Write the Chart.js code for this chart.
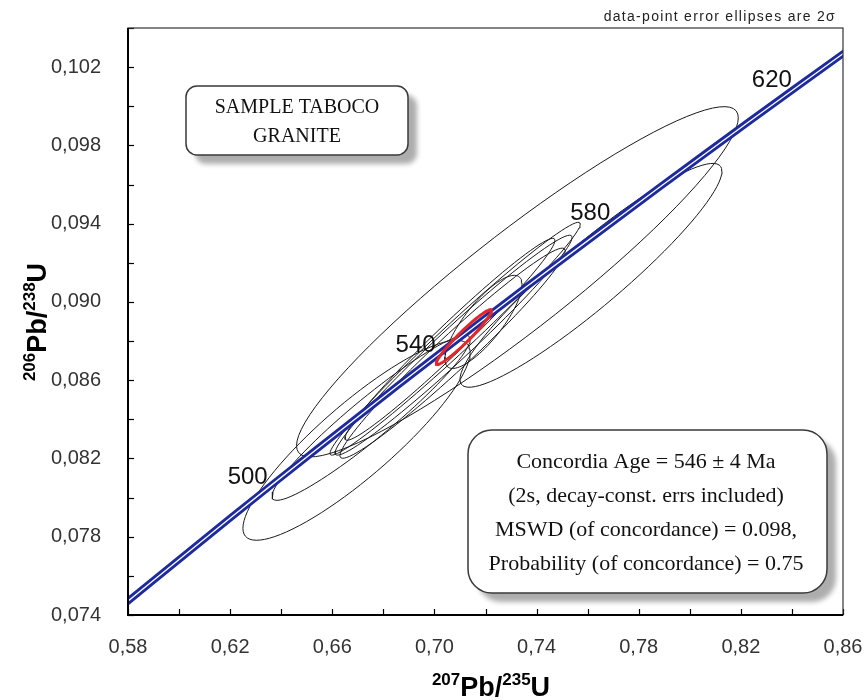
<!DOCTYPE html>
<html>
<head>
<meta charset="utf-8">
<script src="https://cdn.jsdelivr.net/npm/chart.js@4"></script>
<style>
  html, body { margin: 0; padding: 0; background: #fff; }
  #wrap { width: 867px; height: 700px; }
</style>
</head>
<body>
<div id="wrap"><canvas id="myChart" width="867" height="700"></canvas></div>
<script>
// concordia curve (age in Ma, 207Pb/235U, 206Pb/238U)
const concAges = [460, 480, 500, 520, 540, 560, 580, 600, 620, 640];
const concX = [0.57307, 0.60437, 0.63628, 0.66883, 0.70203, 0.73588, 0.77042, 0.80563, 0.84155, 0.87818];
const concY = [0.07397, 0.07730, 0.08065, 0.08401, 0.08738, 0.09076, 0.09414, 0.09754, 0.10095, 0.10438];
const labelAges = [500, 540, 580, 620];

// data-point error ellipses (2 sigma): centre, half-widths, correlation
const ellCx  = [0.6695, 0.6752, 0.7081, 0.7075, 0.7071, 0.7061, 0.7192, 0.7613, 0.7325];
const ellCy  = [0.08293, 0.08408, 0.08812, 0.08779, 0.08738, 0.08809, 0.08898, 0.09136, 0.09103];
const ellSx  = [0.0445, 0.0388, 0.0490, 0.0464, 0.0441, 0.0411, 0.0151, 0.0513, 0.0865];
const ellSy  = [0.00511, 0.00422, 0.00595, 0.00562, 0.00537, 0.00516, 0.00238, 0.00572, 0.00895];
const ellRho = [0.88, 0.95, 0.985, 0.98, 0.975, 0.98, 0.80, 0.93, 0.936];

// concordia age ellipse (red)
const ageCx = 0.7115, ageCy = 0.0882, ageSx = 0.0108, ageSy = 0.0014, ageRho = 0.96;

const xTicks = [0.58, 0.86, 0.02];
const yTicks = [0.074, 0.104, 0.002];

const titleLines = ['SAMPLE TABOCO', 'GRANITE'];
const statLines = [
  'Concordia Age = 546 \u00b1 4 Ma',
  '(2s, decay-const. errs included)',
  'MSWD (of concordance) = 0.098,',
  'Probability (of concordance) = 0.75'
];

function ellipse(cx, cy, sx, sy, rho) {
  const pts = [];
  const k = Math.sqrt(1 - rho * rho);
  for (let i = 0; i <= 90; i++) {
    const t = i / 90 * 2 * Math.PI;
    pts.push({x: cx + sx * Math.cos(t), y: cy + sy * (rho * Math.cos(t) + k * Math.sin(t))});
  }
  return pts;
}

const concData = concX.map((x, i) => ({x: x, y: concY[i]}));

const datasets = [];
datasets.push({data: ellipse(ageCx, ageCy, ageSx, ageSy, ageRho), borderColor: '#e3262a', borderWidth: 3, order: 0});
datasets.push({data: concData, borderColor: '#ffffff', borderWidth: 1.3, tension: 0.4, order: 1});
datasets.push({data: concData, borderColor: '#1d2a9e', borderWidth: 7, tension: 0.4, order: 2});
ellCx.forEach((cx, i) => {
  datasets.push({data: ellipse(cx, ellCy[i], ellSx[i], ellSy[i], ellRho[i]), borderColor: '#1a1a1a', borderWidth: 1, order: 3});
});
datasets.forEach(d => { d.showLine = true; d.pointRadius = 0; d.fill = false; });

function roundBox(ctx, x, y, w, h, r, lines, font, lineGap) {
  ctx.save();
  ctx.shadowColor = 'rgba(0,0,0,0.32)';
  ctx.shadowBlur = 5;
  ctx.shadowOffsetX = 9;
  ctx.shadowOffsetY = 9;
  ctx.beginPath();
  ctx.roundRect(x, y, w, h, r);
  ctx.fillStyle = '#fff';
  ctx.fill();
  ctx.restore();
  ctx.save();
  ctx.beginPath();
  ctx.roundRect(x, y, w, h, r);
  ctx.strokeStyle = '#3a3a3a';
  ctx.lineWidth = 1.5;
  ctx.stroke();
  ctx.fillStyle = '#111';
  ctx.font = font;
  ctx.textAlign = 'center';
  ctx.textBaseline = 'alphabetic';
  lines.forEach((s, i) => ctx.fillText(s, lines.x, lines.y + i * lineGap));
  ctx.restore();
}

const decor = {
  id: 'decor',
  afterDraw(chart) {
    const ctx = chart.ctx;
    const a = chart.chartArea;
    const xs = chart.scales.x, ys = chart.scales.y;
    ctx.save();
    // inward ticks
    ctx.strokeStyle = '#000';
    ctx.lineWidth = 1.2;
    xs.ticks.forEach(t => {
      const p = Math.round(xs.getPixelForValue(t.value)) + 0.5;
      ctx.beginPath(); ctx.moveTo(p, a.bottom); ctx.lineTo(p, a.bottom - 6); ctx.stroke();
    });
    ys.ticks.forEach(t => {
      const p = Math.round(ys.getPixelForValue(t.value)) + 0.5;
      ctx.beginPath(); ctx.moveTo(a.left, p); ctx.lineTo(a.left + 6, p); ctx.stroke();
    });
    // frame
    ctx.strokeStyle = '#333';
    ctx.lineWidth = 1.2;
    ctx.strokeRect(a.left, a.top, a.right - a.left, a.bottom - a.top);
    ctx.strokeStyle = '#000';
    ctx.lineWidth = 2;
    ctx.beginPath();
    ctx.moveTo(a.left, a.top); ctx.lineTo(a.left, a.bottom); ctx.lineTo(a.right, a.bottom);
    ctx.stroke();

    // age labels on concordia
    ctx.fillStyle = '#111';
    ctx.font = '24px "Liberation Sans", Arial, sans-serif';
    ctx.textAlign = 'right';
    ctx.textBaseline = 'alphabetic';
    labelAges.forEach(age => {
      const i = concAges.indexOf(age);
      const px = xs.getPixelForValue(concX[i]);
      const py = ys.getPixelForValue(concY[i]);
      ctx.fillText(String(age), px - 4, py - 1);
    });

    // note top right
    ctx.font = '14px "Liberation Sans", Arial, sans-serif';
    ctx.letterSpacing = '1.3px';
    ctx.fillStyle = '#222';
    ctx.fillText('data-point error ellipses are 2\u03c3', 836, 21);
    ctx.letterSpacing = '0px';

    // axis titles with superscripts
    const big = 'bold 27px "Liberation Sans", Arial, sans-serif';
    const small = 'bold 17px "Liberation Sans", Arial, sans-serif';
    function titleWidth(parts) {
      let w = 0;
      parts.forEach(p => { ctx.font = p[1] ? small : big; w += ctx.measureText(p[0]).width; });
      return w;
    }
    function drawTitle(parts, x0, base) {
      ctx.textAlign = 'left';
      let x = x0;
      parts.forEach(p => {
        ctx.font = p[1] ? small : big;
        ctx.fillText(p[0], x, p[1] ? base - 11 : base);
        x += ctx.measureText(p[0]).width;
      });
    }
    ctx.fillStyle = '#000';
    const xt = [['207', 1], ['Pb/', 0], ['235', 1], ['U', 0]];
    drawTitle(xt, 491 - titleWidth(xt) / 2, 696);
    const yt = [['206', 1], ['Pb/', 0], ['238', 1], ['U', 0]];
    const yw = titleWidth(yt);
    ctx.save();
    ctx.translate(46, 322);
    ctx.rotate(-Math.PI / 2);
    drawTitle(yt, -yw / 2, 0);
    ctx.restore();

    // text boxes
    const t = titleLines.slice(); t.x = 297; t.y = 113;
    roundBox(ctx, 186, 86, 222, 69, 11, t, '20px "Liberation Serif", "Times New Roman", serif', 29);
    const s = statLines.slice(); s.x = 646; s.y = 468;
    roundBox(ctx, 468, 430, 359, 163, 24, s, '22px "Liberation Serif", "Times New Roman", serif', 34);
    ctx.restore();
  }
};

const config = {
  type: 'scatter',
  data: {datasets: datasets},
  options: {
    responsive: false,
    animation: false,
    devicePixelRatio: 1,
    layout: {padding: {top: 28, right: 24, left: 0, bottom: 0}},
    plugins: {legend: {display: false}, tooltip: {enabled: false}},
    scales: {
      x: {
        type: 'linear',
        min: xTicks[0], max: xTicks[1],
        afterFit: s => { s.height = 85; s.paddingRight = 0; s.paddingLeft = 0; },
        grid: {display: false},
        border: {display: false},
        ticks: {
          stepSize: xTicks[2], autoSkip: false, maxRotation: 0, padding: 12,
          color: '#333',
          font: {family: '"Liberation Sans", Arial, sans-serif', size: 20},
          callback: (v, i) => i % 2 === 0 ? v.toFixed(2).replace('.', ',') : ''
        }
      },
      y: {
        type: 'linear',
        min: yTicks[0], max: yTicks[1],
        afterFit: s => { s.width = 128; s.paddingTop = 0; s.paddingBottom = 0; },
        grid: {display: false},
        border: {display: false},
        ticks: {
          stepSize: yTicks[2], autoSkip: false, padding: 19,
          color: '#333',
          font: {family: '"Liberation Sans", Arial, sans-serif', size: 20},
          callback: (v, i) => i % 2 === 0 ? v.toFixed(3).replace('.', ',') : ''
        }
      }
    }
  },
  plugins: [decor]
};

const myChart = new Chart(document.getElementById('myChart'), config);
</script>
</body>
</html>
